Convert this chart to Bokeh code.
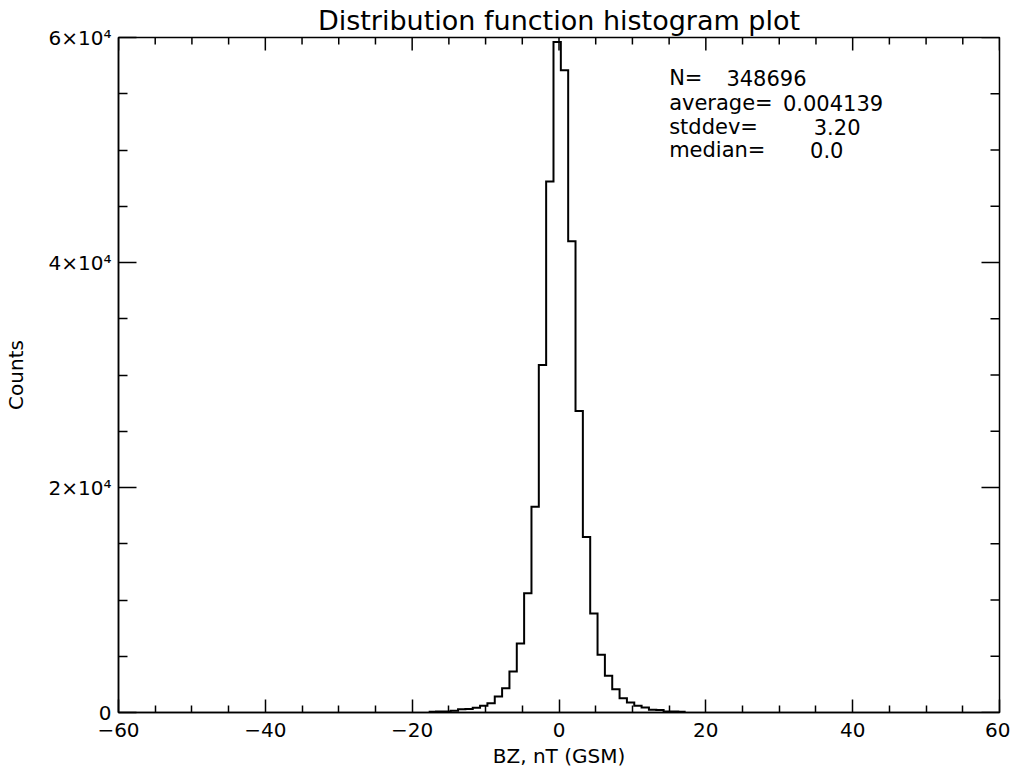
import math
from bokeh.plotting import figure
from bokeh.models import Range1d, FixedTicker, Label
from bokeh.embed import file_html
from bokeh.resources import INLINE

# ---- data ----
bin_centers = [-17.25, -16.25, -15.25, -14.25, -13.25, -12.25, -11.25, -10.25, -9.25,
               -8.25, -7.25, -6.25, -5.25, -4.25, -3.25, -2.25, -1.25, -0.25,
               0.75, 1.75, 2.75, 3.75, 4.75, 5.75, 6.75, 7.75, 8.75, 9.75,
               10.75, 11.75, 12.75, 13.75, 14.75, 15.75, 16.75]
counts = [60, 80, 100, 150, 280, 320, 415, 593, 830,
          1420, 2160, 3640, 6130, 10600, 18300, 30900, 47200, 59600,
          57100, 41900, 26800, 15600, 8800, 5130, 3260, 2070, 1270, 890,
          590, 440, 250, 220, 100, 80, 60]
bin_width = 1.0

x_min, x_max = -60, 60
y_min, y_max = 0, 60000
x_ticks = [-60, -40, -20, 0, 20, 40, 60]
x_tick_labels = ["\u221260", "\u221240", "\u221220", "0", "20", "40", "60"]
x_minor = [-55, -50, -45, -35, -30, -25, -15, -10, -5, 5, 10, 15, 25, 30, 35, 45, 50, 55]
y_ticks = [0, 20000, 40000, 60000]
y_tick_labels = ["0", "2\u00d710\u2074", "4\u00d710\u2074", "6\u00d710\u2074"]
y_minor = [5000, 10000, 15000, 25000, 30000, 35000, 45000, 50000, 55000]

stat_names = ["N=", "average=", "stddev=", "median="]
stat_values = ["348696", "0.004139", "3.20", "0.0"]

FONT = "DejaVu Sans"

p = figure(width=1010, height=776, output_backend="svg", toolbar_location=None,
           x_range=Range1d(x_min, x_max), y_range=Range1d(y_min, y_max),
           min_border_left=112, min_border_right=11, min_border_top=36, min_border_bottom=64,
           title="Distribution function histogram plot")
p.title.text_font = FONT
p.title.text_font_size = "27px"
p.title.text_font_style = "normal"
p.title.align = "center"
p.title.standoff = 4
p.title.text_color = "black"

p.grid.visible = False
p.outline_line_color = "black"
p.outline_line_width = 1.5
p.background_fill_color = "white"
p.border_fill_color = "white"

def style_axis(ax, ticks, minor, labels, major_len, minor_len):
    ax.ticker = FixedTicker(ticks=ticks, minor_ticks=minor)
    ax.axis_line_color = "black"
    ax.axis_line_width = 1.5
    ax.major_tick_line_color = "black"
    ax.major_tick_line_width = 1.5
    ax.minor_tick_line_color = "black"
    ax.minor_tick_line_width = 1.5
    ax.major_tick_in = major_len
    ax.major_tick_out = 0
    ax.minor_tick_in = minor_len
    ax.minor_tick_out = 0
    ax.major_label_text_font = FONT
    ax.major_label_text_color = "black"
    ax.major_label_overrides = {t: l for t, l in zip(ticks, labels)}
    ax.major_label_text_font_size = "20px"
    ax.axis_label_text_font = FONT
    ax.axis_label_text_font_size = "20px"
    ax.axis_label_text_font_style = "normal"
    ax.axis_label_text_color = "black"

xb = p.xaxis[0]
yl = p.yaxis[0]
style_axis(xb, x_ticks, x_minor, x_tick_labels, 13, 7)
style_axis(yl, y_ticks, y_minor, y_tick_labels, 18, 9)
xb.major_label_standoff = 10
yl.major_label_standoff = 7
xb.axis_label = "BZ, nT (GSM)"
yl.axis_label = "Counts"
xb.axis_label_standoff = 4
yl.axis_label_standoff = 18

# mirrored inward ticks on the top and right edges (dash markers clipped by the frame)
tick_style = dict(marker="dash", line_color="black", line_width=1.5)
p.scatter(x=x_ticks, y=[y_max] * len(x_ticks), size=26, angle=math.pi / 2, **tick_style)
p.scatter(x=x_minor, y=[y_max] * len(x_minor), size=14, angle=math.pi / 2, **tick_style)
p.scatter(x=[x_max] * len(y_ticks), y=y_ticks, size=36, **tick_style)
p.scatter(x=[x_max] * len(y_minor), y=y_minor, size=18, **tick_style)

# histogram outline (IDL psym=10 style)
edges = [c - bin_width / 2 for c in bin_centers] + [bin_centers[-1] + bin_width / 2]
p.step(x=edges, y=counts + [counts[-1]], mode="after",
       line_color="black", line_width=2, line_join="miter")

# statistics block
name_x = 15.0
value_x = [22.8, 30.5, 34.7, 34.2]
row_y = [56360, 54150, 52080, 50000]
for nm, val, vx, ry in zip(stat_names, stat_values, value_x, row_y):
    p.add_layout(Label(x=name_x, y=ry, text=nm, text_font=FONT, text_font_size="21px",
                       text_color="black", text_baseline="alphabetic"))
    p.add_layout(Label(x=vx, y=ry, text=val, text_font=FONT, text_font_size="21px",
                       text_color="black", text_baseline="alphabetic"))

open("out.html", "w").write(file_html(p, INLINE))
